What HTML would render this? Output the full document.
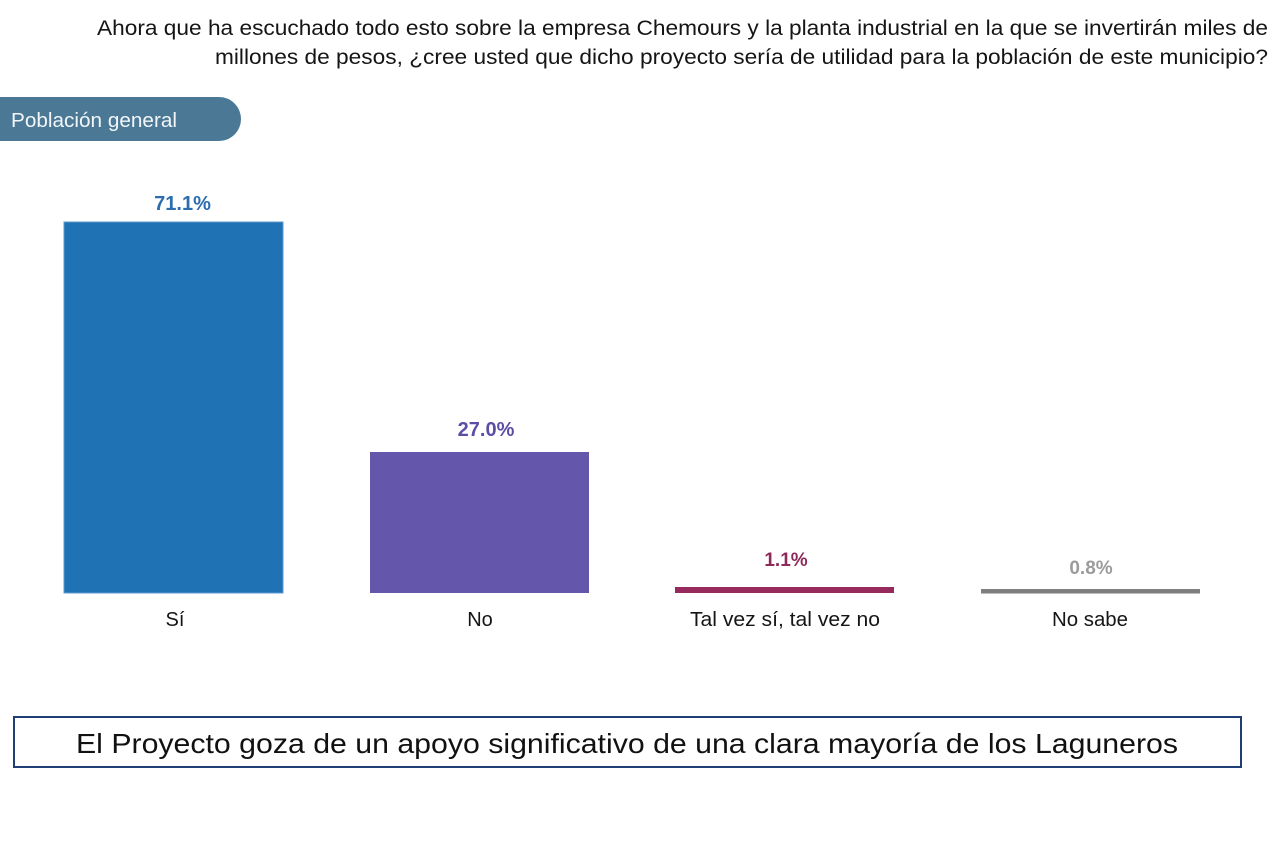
<!DOCTYPE html>
<html>
<head>
<meta charset="utf-8">
<style>
  html, body { margin:0; padding:0; background:#ffffff; }
  body { width:1280px; height:854px; overflow:hidden; }
  svg { display:block; }
  text { font-family: "Liberation Sans", Arial, sans-serif; }
</style>
</head>
<body>
<svg width="1280" height="854" viewBox="0 0 1280 854" xmlns="http://www.w3.org/2000/svg">
  <rect x="0" y="0" width="1280" height="854" fill="#ffffff"/>

  <!-- Title -->
  <text x="1268" y="35" font-size="21" fill="#151515" text-anchor="end" textLength="1171" lengthAdjust="spacingAndGlyphs">Ahora que ha escuchado todo esto sobre la empresa Chemours y la planta industrial en la que se invertirán miles de</text>
  <text x="1268" y="64" font-size="21" fill="#151515" text-anchor="end" textLength="1053" lengthAdjust="spacingAndGlyphs">millones de pesos, ¿cree usted que dicho proyecto sería de utilidad para la población de este municipio?</text>

  <!-- Pill -->
  <path d="M0,97 H219 A22,22 0 0 1 219,141 H0 Z" fill="#4a7895"/>
  <text x="11" y="127" font-size="20" fill="#f2f6f9" textLength="166" lengthAdjust="spacingAndGlyphs">Población general</text>

  <!-- Bars -->
  <rect x="64" y="222" width="219" height="371" fill="#1f72b4"/>
  <rect x="64" y="222" width="219" height="371" fill="none" stroke="#5b9bd0" stroke-width="1"/>
  <rect x="370" y="452" width="219" height="141" fill="#6457ab"/>
  <rect x="675" y="587" width="219" height="6" fill="#962a5c"/>
  <rect x="981" y="589" width="219" height="4.5" fill="#7f7f7f"/>

  <!-- Value labels -->
  <text x="182.5" y="210" font-size="20" font-weight="bold" fill="#2b6db0" text-anchor="middle">71.1%</text>
  <text x="486" y="436" font-size="20" font-weight="bold" fill="#5c4ea7" text-anchor="middle">27.0%</text>
  <text x="786" y="566" font-size="19" font-weight="bold" fill="#8e2a5a" text-anchor="middle">1.1%</text>
  <text x="1091" y="574" font-size="19" font-weight="bold" fill="#9b9b9b" text-anchor="middle">0.8%</text>

  <!-- Category labels -->
  <text x="175" y="626" font-size="20" fill="#151515" text-anchor="middle">Sí</text>
  <text x="480" y="626" font-size="20" fill="#151515" text-anchor="middle">No</text>
  <text x="785" y="626" font-size="20" fill="#151515" text-anchor="middle" textLength="190" lengthAdjust="spacingAndGlyphs">Tal vez sí, tal vez no</text>
  <text x="1090" y="626" font-size="20" fill="#151515" text-anchor="middle" textLength="76" lengthAdjust="spacingAndGlyphs">No sabe</text>

  <!-- Bottom box -->
  <rect x="14" y="717" width="1227" height="50" fill="#ffffff" stroke="#1f3f74" stroke-width="2"/>
  <text x="627" y="753" font-size="28" fill="#111111" text-anchor="middle" textLength="1102" lengthAdjust="spacingAndGlyphs">El Proyecto goza de un apoyo significativo de una clara mayoría de los Laguneros</text>
</svg>
</body>
</html>
